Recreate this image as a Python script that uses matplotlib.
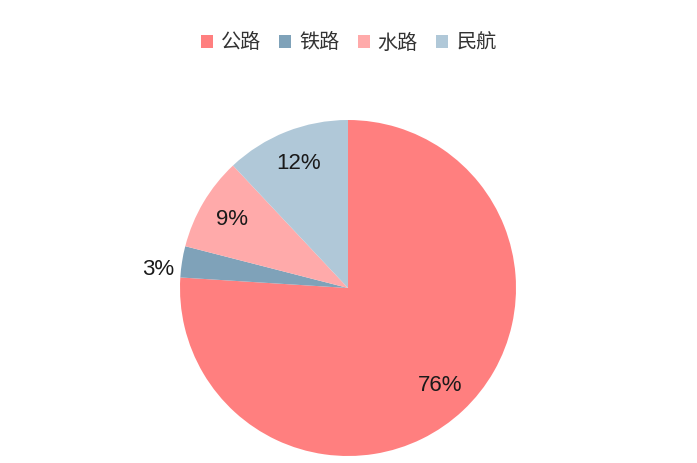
import matplotlib.pyplot as plt

plt.rcParams['font.family'] = ['Noto Sans CJK SC', 'DejaVu Sans']

# data
labels = ['公路', '铁路', '水路', '民航']
shares = [76, 3, 9, 12]
colors = ['#FF7F7F', '#7FA2B9', '#FFAAAA', '#B0C8D8']

fig = plt.figure(figsize=(6.97, 4.63), dpi=100)
cx, cy, r = 348, 288, 168
ax = fig.add_axes([(cx - r) / 697, (463 - cy - r) / 463, 2 * r / 697, 2 * r / 463])

wedges, texts, autotexts = ax.pie(shares, colors=colors, startangle=90, counterclock=False,
                                  autopct='%d%%', pctdistance=0.8,
                                  textprops={'fontsize': 16, 'color': '#1a1a1a',
                                             'family': ['Liberation Sans', 'DejaVu Sans']})
# small slice label sits outside
autotexts[1].set_position((-1.13, 0.11))
ax.set_xlim(-1, 1)
ax.set_ylim(-1, 1)
ax.set_aspect('equal')

fig.legend(wedges, labels, loc='center', bbox_to_anchor=(0.5, 1 - 43 / 463), ncol=4,
           frameon=False, fontsize=14.5, handlelength=0.6, handleheight=0.6,
           handletextpad=0.4, columnspacing=0.9, labelcolor='#333333')

fig.savefig('out.png', dpi=100)
